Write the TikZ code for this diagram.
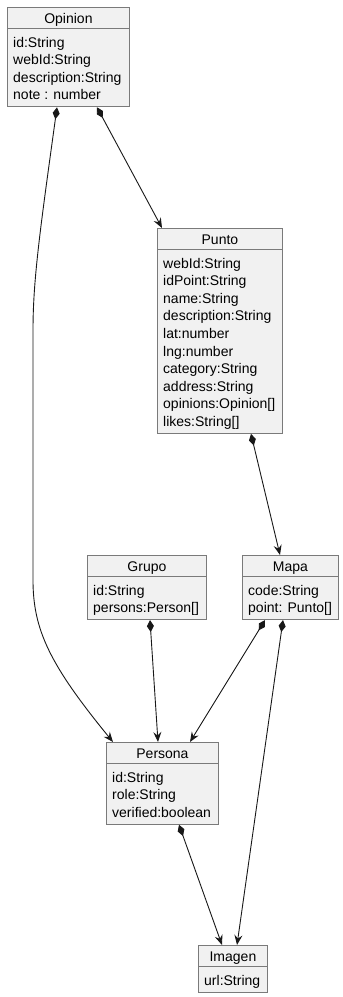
\documentclass[tikz,border=0pt]{standalone}
\usepackage{fontspec}
\setmainfont{Liberation Sans}
\usetikzlibrary{arrows.meta}

\definecolor{boxfill}{HTML}{F1F1F1}
\definecolor{boxline}{HTML}{7A7A7A}
\definecolor{linkline}{HTML}{181818}

\tikzset{
  classbox/.style={draw=boxline, fill=boxfill, line width=0.9pt, inner sep=0pt,
                   anchor=north west},
  classrule/.style={draw=boxline, line width=0.9pt},
  classtitle/.style={anchor=base, inner sep=0pt, font=\fontsize{14}{17.6}\selectfont},
  classattr/.style={anchor=base west, inner sep=0pt, font=\fontsize{14}{17.6}\selectfont},
  composition/.style={draw=linkline, line width=0.9pt,
    {Diamond[length=12pt,width=7pt]}-{Stealth[length=10pt,width=8pt,inset=3.5pt]}},
}

% #1 name, #2 x, #3 y, #4 width, #5 number of attributes, #6 title, #7 attributes
\newcommand{\umlclass}[7]{%
  \pgfmathsetmacro{\clsh}{29+17.6*#5}
  \node[classbox, minimum width=#4pt, minimum height=\clsh pt] (#1) at (#2,#3) {};
  \draw[classrule] ([yshift=-21pt]#1.north west) -- ([yshift=-21pt]#1.north east);
  \node[classtitle] (#1-title) at ([yshift=-16pt]#1.north) {#6};
  \foreach \attr [count=\i] in {#7} {
    \node[classattr] (#1-attr\i) at ([xshift=6pt, yshift={-40pt-17.6pt*(\i-1)}]#1.north west) {\attr};
  }
}

\begin{document}
\begin{tikzpicture}[x=1pt, y=-1pt]
  \useasboundingbox (0,0) rectangle (343,997);

  \umlclass{opinion}{7}{7}{122}{4}{Opinion}
    {id:String, webId:String, description:String, note : number}
  \umlclass{punto}{157}{228}{125}{10}{Punto}
    {webId:String, idPoint:String, name:String, description:String, lat:number,
     lng:number, category:String, address:String, opinions:Opinion[], likes:String[]}
  \umlclass{grupo}{87}{555}{119}{2}{Grupo}
    {id:String, persons:Person[]}
  \umlclass{mapa}{242}{555}{96}{2}{Mapa}
    {code:String, point: Punto[]}
  \umlclass{persona}{106}{742}{112}{3}{Persona}
    {id:String, role:String, verified:boolean}
  \umlclass{imagen}{198}{945}{69}{1}{Imagen}
    {url:String}

  % compositions
  \draw[composition] ([xshift=50pt]opinion.south west)
    .. controls +(-17,123) and +(0,-50) .. (33,330)
    -- (33,580)
    .. controls +(0,50) and +(-63,-77) .. ([xshift=7pt]persona.north west);
  \draw[composition] ([xshift=90pt]opinion.south west) -- ([xshift=5pt]punto.north west);
  \draw[composition] ([xshift=94pt]punto.south west) -- ([xshift=38pt]mapa.north west);
  \draw[composition] ([xshift=63pt]grupo.south west) -- ([xshift=52pt]persona.north west);
  \draw[composition] ([xshift=23pt]mapa.south west) -- ([xshift=84pt]persona.north west);
  \draw[composition] ([xshift=41pt]mapa.south west) -- ([xshift=39pt]imagen.north west);
  \draw[composition] ([xshift=73pt]persona.south west) -- ([xshift=24pt]imagen.north west);
\end{tikzpicture}
\end{document}
